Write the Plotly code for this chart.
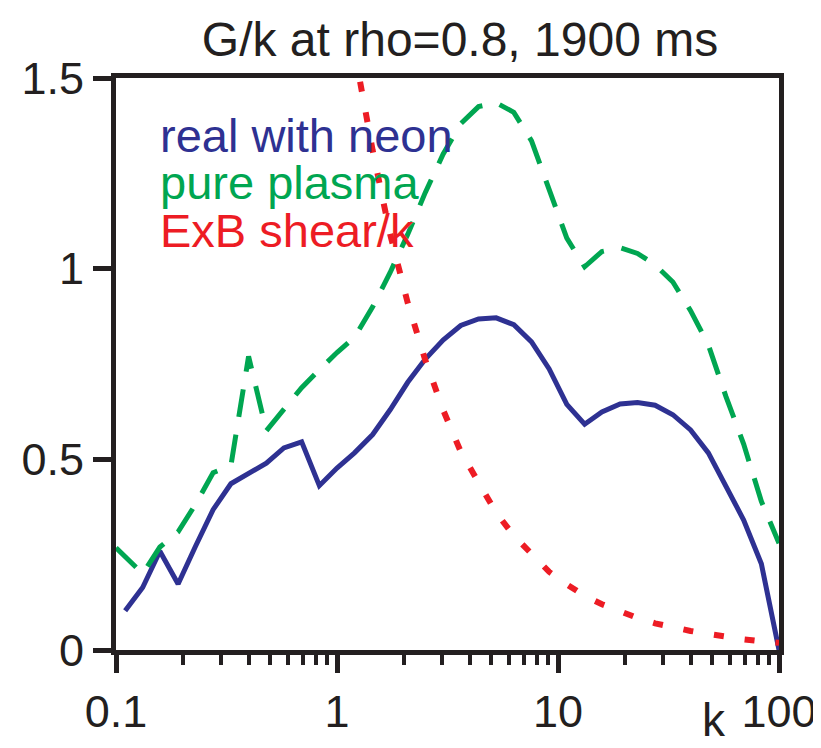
import plotly.graph_objects as go

# ---------------- data ----------------
k_grid = [0.110, 0.132, 0.158, 0.191, 0.229, 0.275, 0.331, 0.398, 0.479, 0.575,
          0.692, 0.832, 1.00, 1.20, 1.45, 1.74, 2.09, 2.51, 3.02, 3.63,
          4.37, 5.25, 6.31, 7.59, 9.12, 10.96, 13.2, 15.8, 19.1, 22.9,
          27.5, 33.1, 39.8, 47.9, 57.5, 69.2, 83.2, 100.0]

real_with_neon = [0.103, 0.164, 0.259, 0.173, 0.272, 0.368, 0.436, 0.464, 0.490, 0.530,
                  0.546, 0.431, 0.477, 0.517, 0.565, 0.630, 0.702, 0.763, 0.813, 0.851,
                  0.868, 0.871, 0.853, 0.808, 0.737, 0.644, 0.592, 0.624, 0.645, 0.649,
                  0.642, 0.617, 0.577, 0.517, 0.431, 0.341, 0.226, 0.0]

k_pure = [0.100] + k_grid
pure_plasma = [0.268, 0.244, 0.200, 0.270, 0.310, 0.382, 0.465, 0.483, 0.770, 0.575,
               0.633, 0.688, 0.735, 0.780, 0.820, 0.900, 0.990, 1.090, 1.200, 1.300,
               1.380, 1.425, 1.435, 1.410, 1.335, 1.210, 1.080, 1.005, 1.045, 1.055,
               1.040, 1.010, 0.965, 0.890, 0.800, 0.665, 0.540, 0.390, 0.280]

k_shear = k_grid[13:]
exb_shear_over_k = [1.57, 1.31, 1.09, 0.91, 0.76, 0.63, 0.52, 0.44, 0.36, 0.30,
                    0.25, 0.205, 0.172, 0.142, 0.12, 0.10, 0.084, 0.07, 0.058, 0.05,
                    0.042, 0.034, 0.028, 0.023, 0.019]

x_tick_vals = [0.1, 1, 10, 100]
x_tick_text = ["0.1", "1", "10", "100"]
y_tick_vals = [0, 0.5, 1, 1.5]
y_tick_text = ["0", "0.5", "1", "1.5"]

title_text = "G/k at rho=0.8, 1900 ms"
x_title = "k"
series_names = ["real with neon", "pure plasma", "ExB shear/k"]

# ---------------- styling ----------------
BLUE = "#2e3192"
GREEN = "#00a651"
RED = "#ed1c24"
BLACK = "#231f20"
FONT = "Liberation Sans, Arial, sans-serif"

W, H = 821, 748
L, R, T, B = 108, 47, 70, 106
PW, PH = W - L - R, H - T - B


def px_to_paper(px, py):
    return (px - L) / PW, (H - B - py) / PH


fig = go.Figure()
fig.add_trace(go.Scatter(x=k_grid, y=real_with_neon, mode="lines", name=series_names[0],
                         line=dict(color=BLUE, width=5), showlegend=False))
fig.add_trace(go.Scatter(x=k_pure, y=pure_plasma, mode="lines", name=series_names[1],
                         line=dict(color=GREEN, width=5, dash="28px,18px"), showlegend=False))
fig.add_trace(go.Scatter(x=k_shear, y=exb_shear_over_k, mode="lines", name=series_names[2],
                         line=dict(color=RED, width=6, dash="10px,21px"), showlegend=False))

minor_vals = [m * 10 ** e for e in (-1, 0, 1) for m in range(2, 10)]

fig.update_xaxes(type="log", range=[-1, 2], showline=True, linewidth=5, linecolor=BLACK,
                 mirror=True, ticks="outside", ticklen=18, tickwidth=5, tickcolor=BLACK,
                 tickmode="array", tickvals=x_tick_vals, ticktext=x_tick_text,
                 tickfont=dict(family=FONT, size=45, color=BLACK),
                 showgrid=False, zeroline=False,
                 minor=dict(ticks="outside", ticklen=10, tickwidth=4, tickcolor=BLACK,
                            tickmode="array", tickvals=minor_vals, showgrid=False))
fig.update_yaxes(range=[0, 1.5], showline=True, linewidth=5, linecolor=BLACK,
                 mirror=True, ticks="outside", ticklen=18, tickwidth=5, tickcolor=BLACK,
                 tickmode="array", tickvals=y_tick_vals, ticktext=y_tick_text,
                 tickfont=dict(family=FONT, size=45, color=BLACK),
                 showgrid=False, zeroline=False)

annotations = []
legend_rows = [(series_names[0], BLUE, 146), (series_names[1], GREEN, 193), (series_names[2], RED, 241)]
for txt, col, base in legend_rows:
    xp, yp = px_to_paper(150, base + 10)
    annotations.append(dict(text=txt, x=xp, y=yp, xref="paper", yref="paper",
                            xanchor="left", yanchor="bottom", showarrow=False,
                            font=dict(family=FONT, size=47, color=col)))

xp, yp = px_to_paper(709, 740)
annotations.append(dict(text=x_title, x=xp, y=yp, xref="paper", yref="paper",
                        xanchor="center", yanchor="bottom", showarrow=False,
                        font=dict(family=FONT, size=46, color=BLACK)))

fig.update_layout(
    width=W, height=H,
    margin=dict(l=L, r=R, t=T, b=B),
    paper_bgcolor="white", plot_bgcolor="white",
    title=dict(text=title_text, x=452 / W, xanchor="center", y=1 - 31 / H, yanchor="middle",
               yref="container", xref="container",
               font=dict(family=FONT, size=48, color=BLACK)),
    annotations=annotations,
    showlegend=False,
)

fig.write_html("out.html")
